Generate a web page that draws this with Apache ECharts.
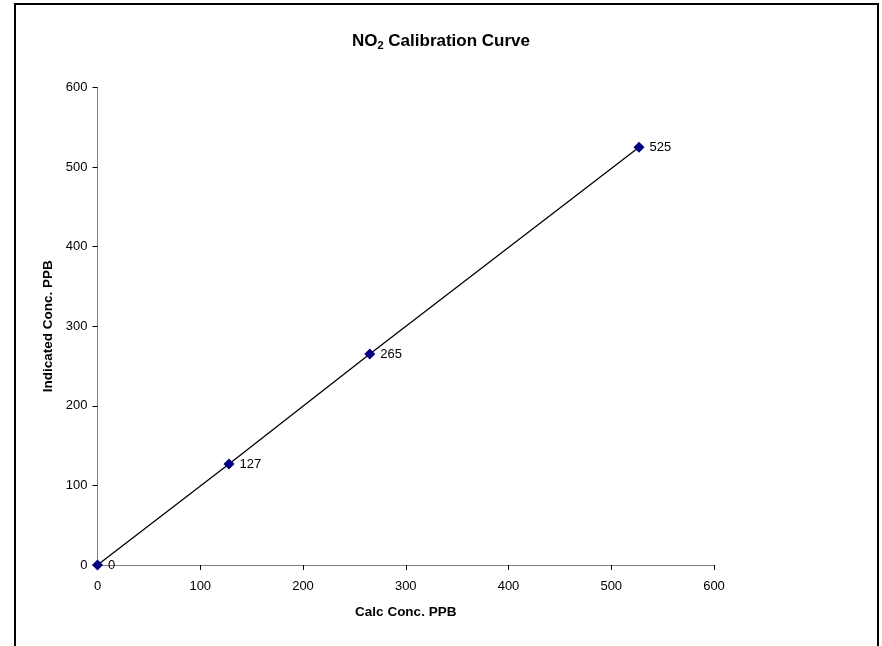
<!DOCTYPE html>
<html>
<head>
<meta charset="utf-8">
<script src="https://cdn.jsdelivr.net/npm/echarts@6/dist/echarts.min.js"></script>
<style>
  html, body { margin: 0; padding: 0; background: #fff; }
  #chart { width: 882px; height: 646px; }
</style>
</head>
<body>
<div id="chart"></div>
<script>
// Calibration readings: calculated vs indicated concentration (ppb)
const calcConc = [0, 128, 265, 527];
const indicatedConc = [0, 127, 265, 525];
const axisTicks = [0, 100, 200, 300, 400, 500, 600];

const points = calcConc.map((x, i) => [x, indicatedConc[i]]);
const font = '"Liberation Sans", Arial, sans-serif';

const chart = echarts.init(document.getElementById('chart'), null, { renderer: 'canvas' });
chart.setOption({
  backgroundColor: '#fff',
  animation: false,
  textStyle: { fontFamily: font },
  title: {
    text: '{b|NO}{s|2}{b| Calibration Curve}',
    left: 'center',
    top: 26,
    textStyle: {
      rich: {
        b: { fontFamily: font, fontWeight: 'bold', fontSize: 17, color: '#000', lineHeight: 20 },
        s: { fontFamily: font, fontWeight: 'bold', fontSize: 11, color: '#000', lineHeight: 20, padding: [10, 0, 0, 0] }
      }
    }
  },
  graphic: [{
    type: 'rect',
    shape: { x: 15, y: 4, width: 863, height: 700 },
    style: { fill: 'none', stroke: '#000', lineWidth: 2 },
    silent: true,
    z: -1
  }],
  grid: { left: 97.5, right: 168, top: 87.5, bottom: 81, containLabel: false },
  xAxis: {
    type: 'value',
    min: axisTicks[0],
    max: axisTicks[axisTicks.length - 1],
    interval: axisTicks[1] - axisTicks[0],
    name: 'Calc Conc. PPB',
    nameLocation: 'middle',
    nameGap: 40,
    nameTextStyle: { fontFamily: font, fontWeight: 'bold', fontSize: 13.5, color: '#000' },
    axisLine: { show: true, lineStyle: { color: '#808080', width: 1 } },
    axisTick: { show: true, inside: false, length: 5, lineStyle: { color: '#000' } },
    axisLabel: { fontFamily: font, fontSize: 13, color: '#000', margin: 15 },
    splitLine: { show: false }
  },
  yAxis: {
    type: 'value',
    min: axisTicks[0],
    max: axisTicks[axisTicks.length - 1],
    interval: axisTicks[1] - axisTicks[0],
    name: 'Indicated Conc. PPB',
    nameLocation: 'middle',
    nameGap: 40,
    nameTextStyle: { fontFamily: font, fontWeight: 'bold', fontSize: 13.5, color: '#000' },
    axisLine: { show: true, lineStyle: { color: '#808080', width: 1 } },
    axisTick: { show: true, inside: false, length: 5, lineStyle: { color: '#000' } },
    axisLabel: { fontFamily: font, fontSize: 13, color: '#000', margin: 10 },
    splitLine: { show: false }
  },
  series: [{
    type: 'line',
    data: points,
    symbol: 'diamond',
    symbolSize: 11,
    itemStyle: { color: '#000080' },
    lineStyle: { color: '#000', width: 1.3 },
    label: {
      show: true,
      position: 'right',
      distance: 5,
      fontFamily: font,
      fontSize: 13,
      color: '#000',
      formatter: p => p.value[1]
    }
  }]
});
</script>
</body>
</html>
